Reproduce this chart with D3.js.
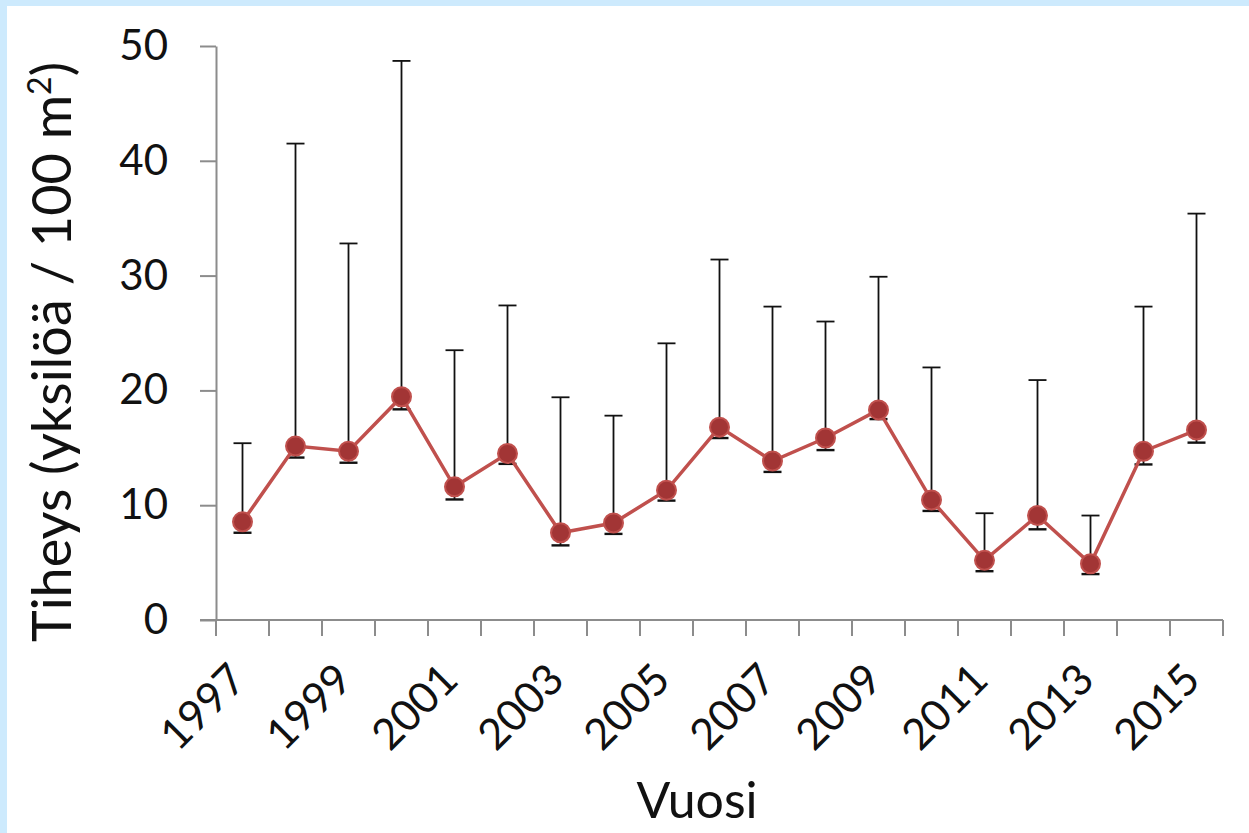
<!DOCTYPE html>
<html>
<head>
<meta charset="utf-8">
<script src="https://cdn.jsdelivr.net/npm/d3@7"></script>
<style>
  html, body { margin: 0; padding: 0; background: #fff; }
  svg { display: block; font-family: "Lato", "Open Sans", sans-serif; }
</style>
</head>
<body>
<div id="chart"></div>
<script>
// Tiheys vuosittain: keskiarvo, alaraja ja yläraja (virhepalkit)
const years = [1997, 1998, 1999, 2000, 2001, 2002, 2003, 2004, 2005, 2006,
               2007, 2008, 2009, 2010, 2011, 2012, 2013, 2014, 2015];
const means = [8.55, 15.15, 14.7, 19.45, 11.6, 14.5, 7.6, 8.45, 11.3, 16.8,
               13.85, 15.85, 18.3, 10.45, 5.2, 9.1, 4.9, 14.7, 16.55];
const lower = [7.6, 14.15, 13.7, 18.35, 10.5, 13.6, 6.5, 7.5, 10.4, 15.85,
               12.9, 14.8, 17.5, 9.5, 4.25, 7.9, 4.0, 13.55, 15.45];
const upper = [15.4, 41.5, 32.8, 48.7, 23.5, 27.4, 19.4, 17.8, 24.1, 31.4,
               27.3, 26.0, 29.9, 22.0, 9.3, 20.9, 9.1, 27.3, 35.4];
const yTicks = [0, 10, 20, 30, 40, 50];
const labelYears = years.filter((d, i) => i % 2 === 0);

const width = 1249, height = 833;
const plot = { left: 216, right: 1223, top: 46, bottom: 620 };
const axisColor = "#8c8c8c";
const lineColor = "#c0504d";

const data = years.map((y, i) => ({ year: y, mean: means[i], lo: lower[i], hi: upper[i] }));

const svg = d3.select("#chart").append("svg")
    .attr("width", width)
    .attr("height", height);

// light blue frame on top and left
svg.append("rect").attr("x", 0).attr("y", 0).attr("width", width).attr("height", 6).attr("fill", "#cdeafd");
svg.append("rect").attr("x", 0).attr("y", 0).attr("width", 7).attr("height", height).attr("fill", "#cdeafd");

const x = d3.scaleBand().domain(years).range([plot.left, plot.right]).padding(0);
const y = d3.scaleLinear().domain([0, 50]).range([plot.bottom, plot.top]);
const cx = d => x(d) + x.bandwidth() / 2;

// ---------------------------------------------------------------------------
// Axes
// ---------------------------------------------------------------------------

const yAxis = svg.append("g")
    .attr("transform", `translate(${plot.left},0)`)
    .call(d3.axisLeft(y).tickValues(yTicks).tickSize(16).tickPadding(32).tickSizeOuter(0));
yAxis.select(".domain").attr("stroke", axisColor).attr("stroke-width", 2);
yAxis.selectAll(".tick line").attr("stroke", axisColor).attr("stroke-width", 2);
yAxis.selectAll(".tick text")
    .attr("fill", "#111")
    .attr("font-size", "42px")
    .attr("font-family", "Lato, sans-serif");

// category axis: ticks on band boundaries
const bounds = years.map(d => x(d)).concat([plot.right]);
const xAxis = svg.append("g");
xAxis.append("line")
    .attr("x1", plot.left - 16).attr("x2", plot.right)
    .attr("y1", plot.bottom).attr("y2", plot.bottom)
    .attr("stroke", axisColor).attr("stroke-width", 2);
xAxis.selectAll("line.tick")
    .data(bounds)
    .join("line")
    .attr("class", "tick")
    .attr("x1", d => d).attr("x2", d => d)
    .attr("y1", plot.bottom).attr("y2", plot.bottom + 16)
    .attr("stroke", axisColor).attr("stroke-width", 2);
xAxis.selectAll("text")
    .data(labelYears)
    .join("text")
    .attr("transform", d => `translate(${cx(d) + 6},${plot.bottom + 62}) rotate(-45)`)
    .attr("text-anchor", "end")
    .attr("font-size", "43px")
    .attr("fill", "#111")
    .text(d => d);

// axis titles
svg.append("text")
    .attr("transform", "translate(71,352) rotate(-90)")
    .attr("text-anchor", "middle")
    .attr("font-size", "54px")
    .attr("fill", "#111")
    .html('Tiheys (yksilöä / 100 m<tspan dy="-20" font-size="32px">2</tspan><tspan dy="20">)</tspan>');

svg.append("text")
    .attr("x", 697)
    .attr("y", 818)
    .attr("text-anchor", "middle")
    .attr("font-size", "50px")
    .attr("fill", "#111")
    .text("Vuosi");

// ---------------------------------------------------------------------------
// Error bars, line, markers
// ---------------------------------------------------------------------------

const bars = svg.append("g").attr("stroke", "#111").attr("stroke-width", 1.8);
bars.selectAll("line.v")
    .data(data).join("line").attr("class", "v")
    .attr("x1", d => cx(d.year)).attr("x2", d => cx(d.year))
    .attr("y1", d => y(d.lo)).attr("y2", d => y(d.hi));
bars.selectAll("line.hi")
    .data(data).join("line").attr("class", "hi")
    .attr("x1", d => cx(d.year) - 9).attr("x2", d => cx(d.year) + 9)
    .attr("y1", d => y(d.hi)).attr("y2", d => y(d.hi));
bars.selectAll("line.lo")
    .data(data).join("line").attr("class", "lo")
    .attr("x1", d => cx(d.year) - 9).attr("x2", d => cx(d.year) + 9)
    .attr("y1", d => y(d.lo)).attr("y2", d => y(d.lo))
    .attr("stroke-width", 2.4);

svg.append("path")
    .datum(data)
    .attr("fill", "none")
    .attr("stroke", lineColor)
    .attr("stroke-width", 3.5)
    .attr("d", d3.line().x(d => cx(d.year)).y(d => y(d.mean)));

svg.selectAll("circle.pt")
    .data(data)
    .join("circle")
    .attr("class", "pt")
    .attr("cx", d => cx(d.year))
    .attr("cy", d => y(d.mean))
    .attr("r", 9.5)
    .attr("fill", "#a23535")
    .attr("stroke", "#c0504d")
    .attr("stroke-width", 2);
</script>
</body>
</html>
